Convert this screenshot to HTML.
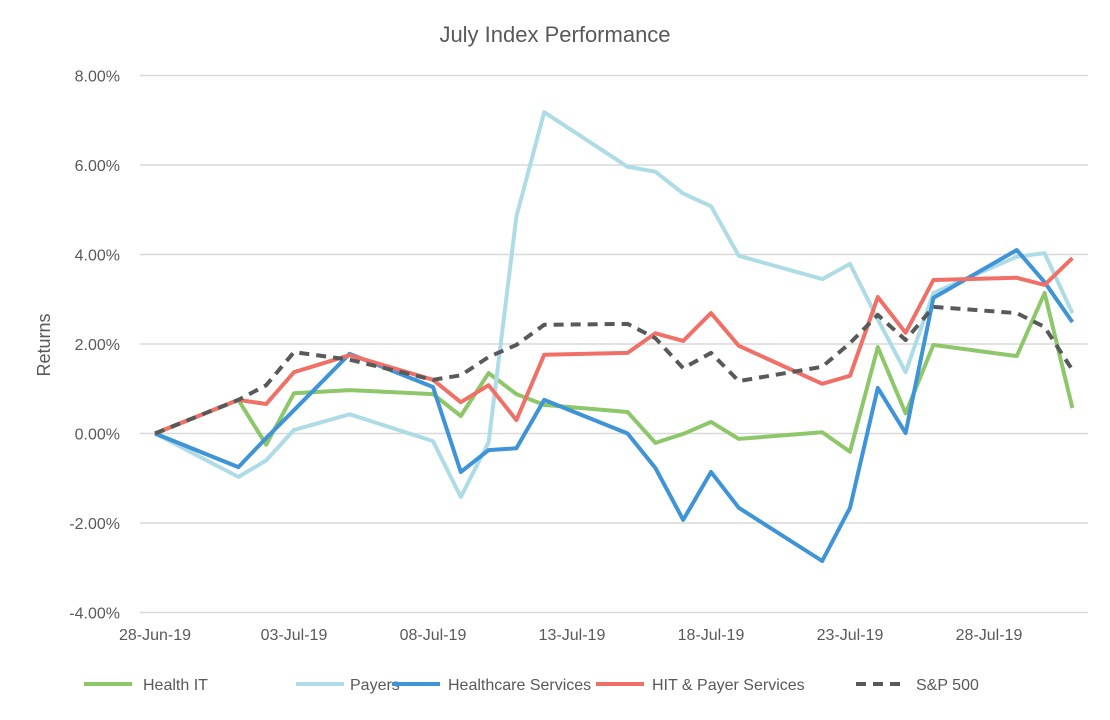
<!DOCTYPE html>
<html><head><meta charset="utf-8"><style>
body{margin:0;background:#fff;font-family:"Liberation Sans",Arial,sans-serif}
svg text{font-family:"Liberation Sans",Arial,sans-serif;fill:#595959}
</style></head><body>
<svg id="chart" width="1110" height="715" viewBox="0 0 1110 715" xmlns="http://www.w3.org/2000/svg">
<rect width="1110" height="715" fill="#fff"/>
<text x="555" y="42" text-anchor="middle" font-size="22">July Index Performance</text>
<text transform="translate(50,345) rotate(-90)" text-anchor="middle" font-size="18">Returns</text>
<g id="grid"></g><g id="yt"></g><g id="xt"></g><g id="lines"></g><g id="legend"></g>
</svg>
<script>
const days=[0,3,4,5,7,10,11,12,13,14,17,18,19,20,21,24,25,26,27,28,31,32,33];
const healthIT=[0,0.75,-0.25,0.9,0.97,0.88,0.39,1.35,0.88,0.64,0.48,-0.21,-0.01,0.26,-0.12,0.03,-0.41,1.93,0.45,1.98,1.73,3.14,0.57];
const payers=[0,-0.97,-0.6,0.08,0.43,-0.17,-1.42,-0.2,4.85,7.18,5.96,5.85,5.36,5.08,3.97,3.45,3.79,2.55,1.37,3.14,3.95,4.03,2.69];
const hcServices=[0,-0.75,-0.1,0.52,1.78,1.04,-0.86,-0.37,-0.33,0.75,0,-0.77,-1.93,-0.86,-1.66,-2.85,-1.66,1.02,0.01,3.03,4.1,3.38,2.49];
const hitPayer=[0,0.75,0.66,1.37,1.75,1.2,0.7,1.08,0.3,1.76,1.8,2.24,2.07,2.69,1.96,1.11,1.29,3.05,2.25,3.43,3.48,3.32,3.92];
const sp500=[0,0.75,1.08,1.82,1.65,1.2,1.3,1.71,1.98,2.43,2.45,2.13,1.46,1.8,1.17,1.49,2.02,2.65,2.09,2.83,2.69,2.38,1.42];
const yTicks=[-4,-2,0,2,4,6,8];
const xTickDays=[0,5,10,15,20,25,30];
const xTickLabels=["28-Jun-19","03-Jul-19","08-Jul-19","13-Jul-19","18-Jul-19","23-Jul-19","28-Jul-19"];
const seriesNames=["Health IT","Payers","Healthcare Services","HIT & Payer Services","S&P 500"];
const NS="http://www.w3.org/2000/svg";
const X=d=>155+27.8*d, Y=v=>433.5-44.75*v;
function mk(t,a,p){const e=document.createElementNS(NS,t);for(const k in a)e.setAttribute(k,a[k]);p.appendChild(e);return e;}
const g=document.getElementById('grid'),yt=document.getElementById('yt'),xt=document.getElementById('xt'),L=document.getElementById('lines'),lg=document.getElementById('legend');
yTicks.forEach(v=>{const l=mk('line',{x1:140,x2:1088,y1:Y(v),y2:Y(v),stroke:'#d9d9d9','stroke-width':1.5},g);

const t=mk('text',{x:120,y:Y(v)+6,'text-anchor':'end','font-size':16},yt);t.textContent=v.toFixed(2)+'%';
});
xTickDays.forEach((d,i)=>{const t=mk('text',{x:X(d),y:640,'text-anchor':'middle','font-size':16},xt);t.textContent=xTickLabels[i];
});
const series=[[healthIT,'#8dc76a',null],[payers,'#addce6',null],[hcServices,'#3e94d6',null],[hitPayer,'#f07067',null],[sp500,'#595959','10,7']];
const keys=['health-it','payers','healthcare-services','hit-payer-services','sp-500'];
series.forEach((s,i)=>{const pts=s[0].map((v,j)=>X(days[j]).toFixed(1)+','+Y(v).toFixed(1)).join(' ');
const a={points:pts,fill:'none',stroke:s[1],'stroke-width':4,'stroke-linejoin':'round'};if(s[2])a['stroke-dasharray']=s[2];
const p=mk('polyline',a,L);});
const lx=[84,296,392,596,856],tx=[143,350,448,652,916];
series.forEach((s,i)=>{const gg=mk('g',{},lg);
const a={x1:lx[i],x2:lx[i]+48,y1:684,y2:684,stroke:s[1],'stroke-width':4};if(s[2])a['stroke-dasharray']=s[2];mk('line',a,gg);
const t=mk('text',{x:tx[i],y:690,'font-size':16},gg);t.textContent=seriesNames[i];});
</script>
</body></html>
